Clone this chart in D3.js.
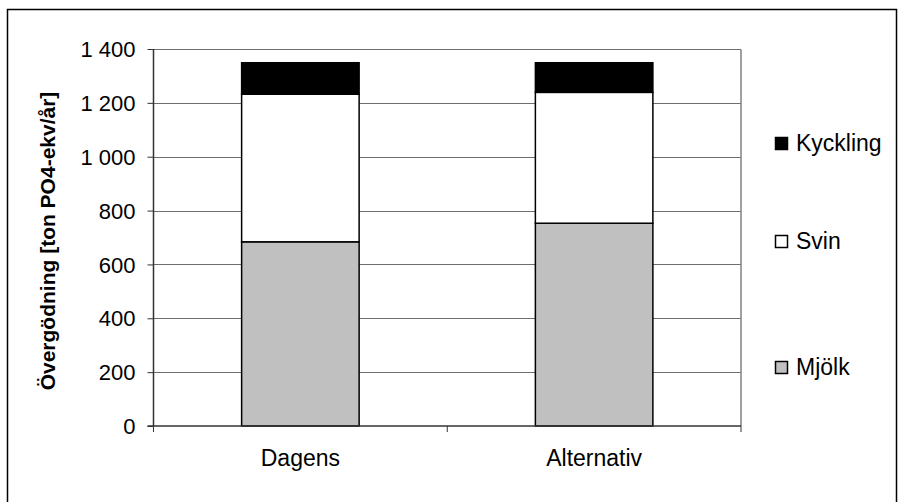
<!DOCTYPE html>
<html>
<head>
<meta charset="utf-8">
<script src="https://cdn.jsdelivr.net/npm/d3@7"></script>
<style>
  body { margin: 0; background: #fff; }
  svg { display: block; font-family: "Liberation Sans", Arial, sans-serif; }
</style>
</head>
<body>
<svg id="chart" width="898" height="502"></svg>
<script>
// Eutrophication per scenario, stacked by production type
const categories = ["Dagens", "Alternativ"];
const seriesNames = ["Mjölk", "Svin", "Kyckling"];
const mjolk = [684, 753];
const svin = [548, 486];
const kyckling = [117, 110];
const yTicks = [0, 200, 400, 600, 800, 1000, 1200, 1400];
const yTitle = "Övergödning [ton PO4-ekv/år]";

const colors = { "Mjölk": "#c0c0c0", "Svin": "#ffffff", "Kyckling": "#000000" };

const rows = categories.map((c, i) => ({ cat: c, "Mjölk": mjolk[i], "Svin": svin[i], "Kyckling": kyckling[i] }));

const svg = d3.select("#chart");
const plot = { left: 153.5, right: 741, top: 49, bottom: 426 };

// outer chart frame
svg.append("rect")
  .attr("x", 7.5).attr("y", 9.5).attr("width", 889).attr("height", 500)
  .attr("fill", "none").attr("stroke", "#000").attr("stroke-width", 1.5);

const x = d3.scaleBand().domain(categories).range([plot.left, plot.right]).paddingInner(0.6).paddingOuter(0.3);
const xOuter = d3.scaleBand().domain(categories).range([plot.left, plot.right]);
const y = d3.scaleLinear().domain([0, 1400]).range([plot.bottom, plot.top]);

// gridlines
svg.append("g").selectAll("line").data(yTicks.filter(t => t > 0)).join("line")
  .attr("x1", plot.left).attr("x2", plot.right)
  .attr("y1", d => Math.round(y(d)) + 0.5).attr("y2", d => Math.round(y(d)) + 0.5)
  .attr("stroke", "#6e6e6e").attr("stroke-width", 1);

// plot area right border
svg.append("line")
  .attr("x1", plot.right).attr("x2", plot.right)
  .attr("y1", Math.round(plot.top) + 0.5).attr("y2", plot.bottom)
  .attr("stroke", "#808080").attr("stroke-width", 1.5);

// stacked bars
const stack = d3.stack().keys(seriesNames)(rows);
svg.append("g").selectAll("g").data(stack).join("g")
  .attr("fill", d => colors[d.key])
  .selectAll("rect").data(d => d).join("rect")
  .attr("x", d => x(d.data.cat))
  .attr("width", x.bandwidth())
  .attr("y", d => y(d[1]))
  .attr("height", d => y(d[0]) - y(d[1]))
  .attr("stroke", "#000").attr("stroke-width", 1.5);

// y axis
const yAxis = svg.append("g")
  .attr("transform", `translate(${plot.left},0)`)
  .call(d3.axisLeft(y).tickValues(yTicks).tickSize(6).tickPadding(12)
    .tickFormat(d => d3.format(",")(d).replace(/,/g, " ")));
yAxis.select(".domain").attr("stroke", "#333").attr("stroke-width", 1.5).attr("d", `M0,${plot.top}V${plot.bottom}`);
yAxis.selectAll(".tick line").attr("stroke", "#333");
yAxis.selectAll("text").attr("font-size", 22).attr("fill", "#000")
  .attr("font-family", "Liberation Sans, Arial, sans-serif").attr("dy", "0.35em");

// x axis
const xg = svg.append("g").attr("transform", `translate(0,${plot.bottom})`);
xg.append("line").attr("x1", plot.left - 6).attr("x2", plot.right).attr("y1", 0).attr("y2", 0)
  .attr("stroke", "#333").attr("stroke-width", 1.5);
const bounds = [xOuter(categories[0]), ...categories.map(c => xOuter(c) + xOuter.bandwidth())];
xg.selectAll("line.tk").data(bounds).join("line").attr("class", "tk")
  .attr("x1", d => d).attr("x2", d => d).attr("y1", 0).attr("y2", 6)
  .attr("stroke", "#333").attr("stroke-width", 1);
xg.selectAll("text").data(categories).join("text")
  .attr("x", d => xOuter(d) + xOuter.bandwidth() / 2)
  .attr("y", 40)
  .attr("text-anchor", "middle")
  .attr("font-size", 23)
  .text(d => d);

// y axis title
svg.append("text")
  .attr("transform", `translate(55,241) rotate(-90)`)
  .attr("text-anchor", "middle")
  .attr("font-size", 21).attr("font-weight", "bold")
  .text(yTitle);

// legend
const legendY = { "Kyckling": 143, "Svin": 241, "Mjölk": 367 };
const lg = svg.append("g");
const items = lg.selectAll("g").data(seriesNames).join("g")
  .attr("transform", d => `translate(775,${legendY[d]})`);
items.append("rect")
  .attr("x", 0.5).attr("y", -5.5).attr("width", 12).attr("height", 12)
  .attr("fill", d => colors[d]).attr("stroke", "#000").attr("stroke-width", 1.5);
items.append("text")
  .attr("x", 21).attr("y", 0).attr("dy", "0.36em")
  .attr("font-size", 23)
  .text(d => d);
</script>
</body>
</html>
